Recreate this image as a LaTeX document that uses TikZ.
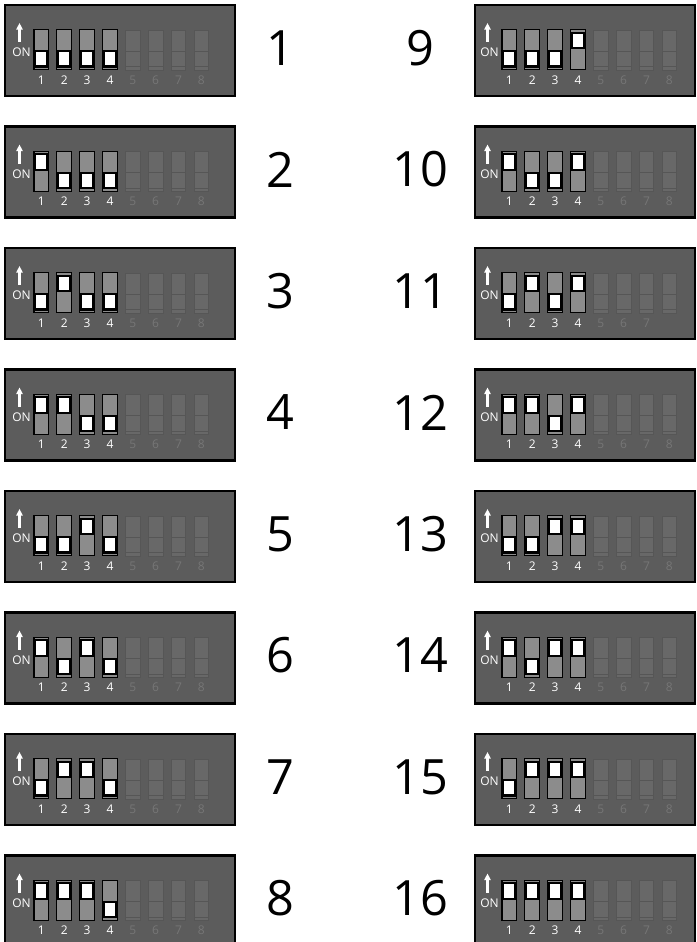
\documentclass[tikz,border=0pt]{standalone}
\usepackage{fontspec}
\setmainfont{Open Sans}
\usepackage{xcolor}
\usetikzlibrary{arrows.meta}
\definecolor{dipbody}{HTML}{5C5C5C}
\definecolor{lever}{HTML}{8C8C8C}
\definecolor{ghost}{HTML}{686868}
\definecolor{ghostline}{HTML}{565656}
\definecolor{ghosttext}{HTML}{767676}

% #1 name, #2/#3 box left/right, #4 content shift, #5 top, #6 switch states, #7 last grey label
\newcommand{\dippanel}[7]{%
  \draw[dipframe] (#2,#5+1) rectangle (#3,#5+92);
  \begin{scope}[shift={(#4,#5)}]
    \draw[onarrow] (19.5,38) -- (19.5,19);
    \node[dipsmall] (#1-on) at (21.5,48.5) {ON};
    \foreach \s [count=\i] in {#6} {
      \pgfmathsetmacro{\xl}{34+22.86*(\i-1)}
      \draw[leverbody] (\xl,25.6) rectangle ++(14.7,40.2);
      \ifnum\s=1 \draw[knob] (\xl+1.15,28.75) rectangle ++(12.4,15.4);
      \else \draw[knob] (\xl+1.15,47.15) rectangle ++(12.4,15.4); \fi
      \node[dipsmall] (#1-l\i) at (\xl+7.35,76) {\i};
    }
    \foreach \i in {5,...,8} {
      \pgfmathsetmacro{\xl}{34+22.86*(\i-1)}
      \draw[ghostsw] (\xl,26) rectangle ++(14.7,40);
      \draw[ghostsw] (\xl,47) -- ++(14.7,0) (\xl,62.7) -- ++(14.7,0);
    }
    \foreach \i in {5,...,#7} {
      \pgfmathsetmacro{\xl}{34+22.86*(\i-1)}
      \node[ghostlabel] (#1-l\i) at (\xl+7.35,76) {\i};
    }
  \end{scope}}

\begin{document}
\begin{tikzpicture}[x=0.75pt, y=-0.75pt,
  dipframe/.style={draw=black, line width=1.9pt, fill=dipbody},
  leverbody/.style={draw=black, line width=0.8pt, fill=lever},
  knob/.style={draw=black, line width=1.7pt, fill=white},
  ghostsw/.style={draw=ghostline, line width=0.6pt, fill=ghost},
  onarrow/.style={white, line width=1.7pt, -{Triangle[width=4.8pt,length=5pt]}},
  dipsmall/.style={text=white, font=\fontsize{9}{10}\selectfont, inner sep=0pt},
  ghostlabel/.style={dipsmall, text=ghosttext},
  bignum/.style={font=\fontsize{36.5}{40}\selectfont, inner sep=0pt}]
  \clip (0,0) rectangle (696,942);
  % left column
  \dippanel{dip1}{5}{235}{0}{4}{0,0,0,0}{8}
  \dippanel{dip2}{5}{235}{0}{125.5}{1,0,0,0}{8}
  \dippanel{dip3}{5}{235}{0}{247}{0,1,0,0}{8}
  \dippanel{dip4}{5}{235}{0}{368.5}{1,1,0,0}{8}
  \dippanel{dip5}{5}{235}{0}{490}{0,0,1,0}{8}
  \dippanel{dip6}{5}{235}{0}{611.5}{1,0,1,0}{8}
  \dippanel{dip7}{5}{235}{0}{733}{0,1,1,0}{8}
  \dippanel{dip8}{5}{235}{0}{854.5}{1,1,1,0}{8}
  % right column
  \dippanel{dip9}{475}{695}{468}{4}{0,0,0,1}{8}
  \dippanel{dip10}{475}{695}{468}{125.5}{1,0,0,1}{8}
  \dippanel{dip11}{475}{695}{468}{247}{0,1,0,1}{7}
  \dippanel{dip12}{475}{695}{468}{368.5}{1,1,0,1}{8}
  \dippanel{dip13}{475}{695}{468}{490}{0,0,1,1}{8}
  \dippanel{dip14}{475}{695}{468}{611.5}{1,0,1,1}{8}
  \dippanel{dip15}{475}{695}{468}{733}{0,1,1,1}{8}
  \dippanel{dip16}{475}{695}{468}{854.5}{1,1,1,1}{8}
  % numbers
  \node[bignum] (n1) at (280,48) {1};
  \node[bignum] (n2) at (280,169.5) {2};
  \node[bignum] (n3) at (280,291) {3};
  \node[bignum] (n4) at (280,412.5) {4};
  \node[bignum] (n5) at (280,534) {5};
  \node[bignum] (n6) at (280,655.5) {6};
  \node[bignum] (n7) at (280,777) {7};
  \node[bignum] (n8) at (280,898.5) {8};
  \node[bignum] (n9) at (420,48) {9};
  \node[bignum] (n10) at (420,169.5) {10};
  \node[bignum] (n11) at (420,291) {11};
  \node[bignum] (n12) at (420,412.5) {12};
  \node[bignum] (n13) at (420,534) {13};
  \node[bignum] (n14) at (420,655.5) {14};
  \node[bignum] (n15) at (420,777) {15};
  \node[bignum] (n16) at (420,898.5) {16};
\end{tikzpicture}
\end{document}
